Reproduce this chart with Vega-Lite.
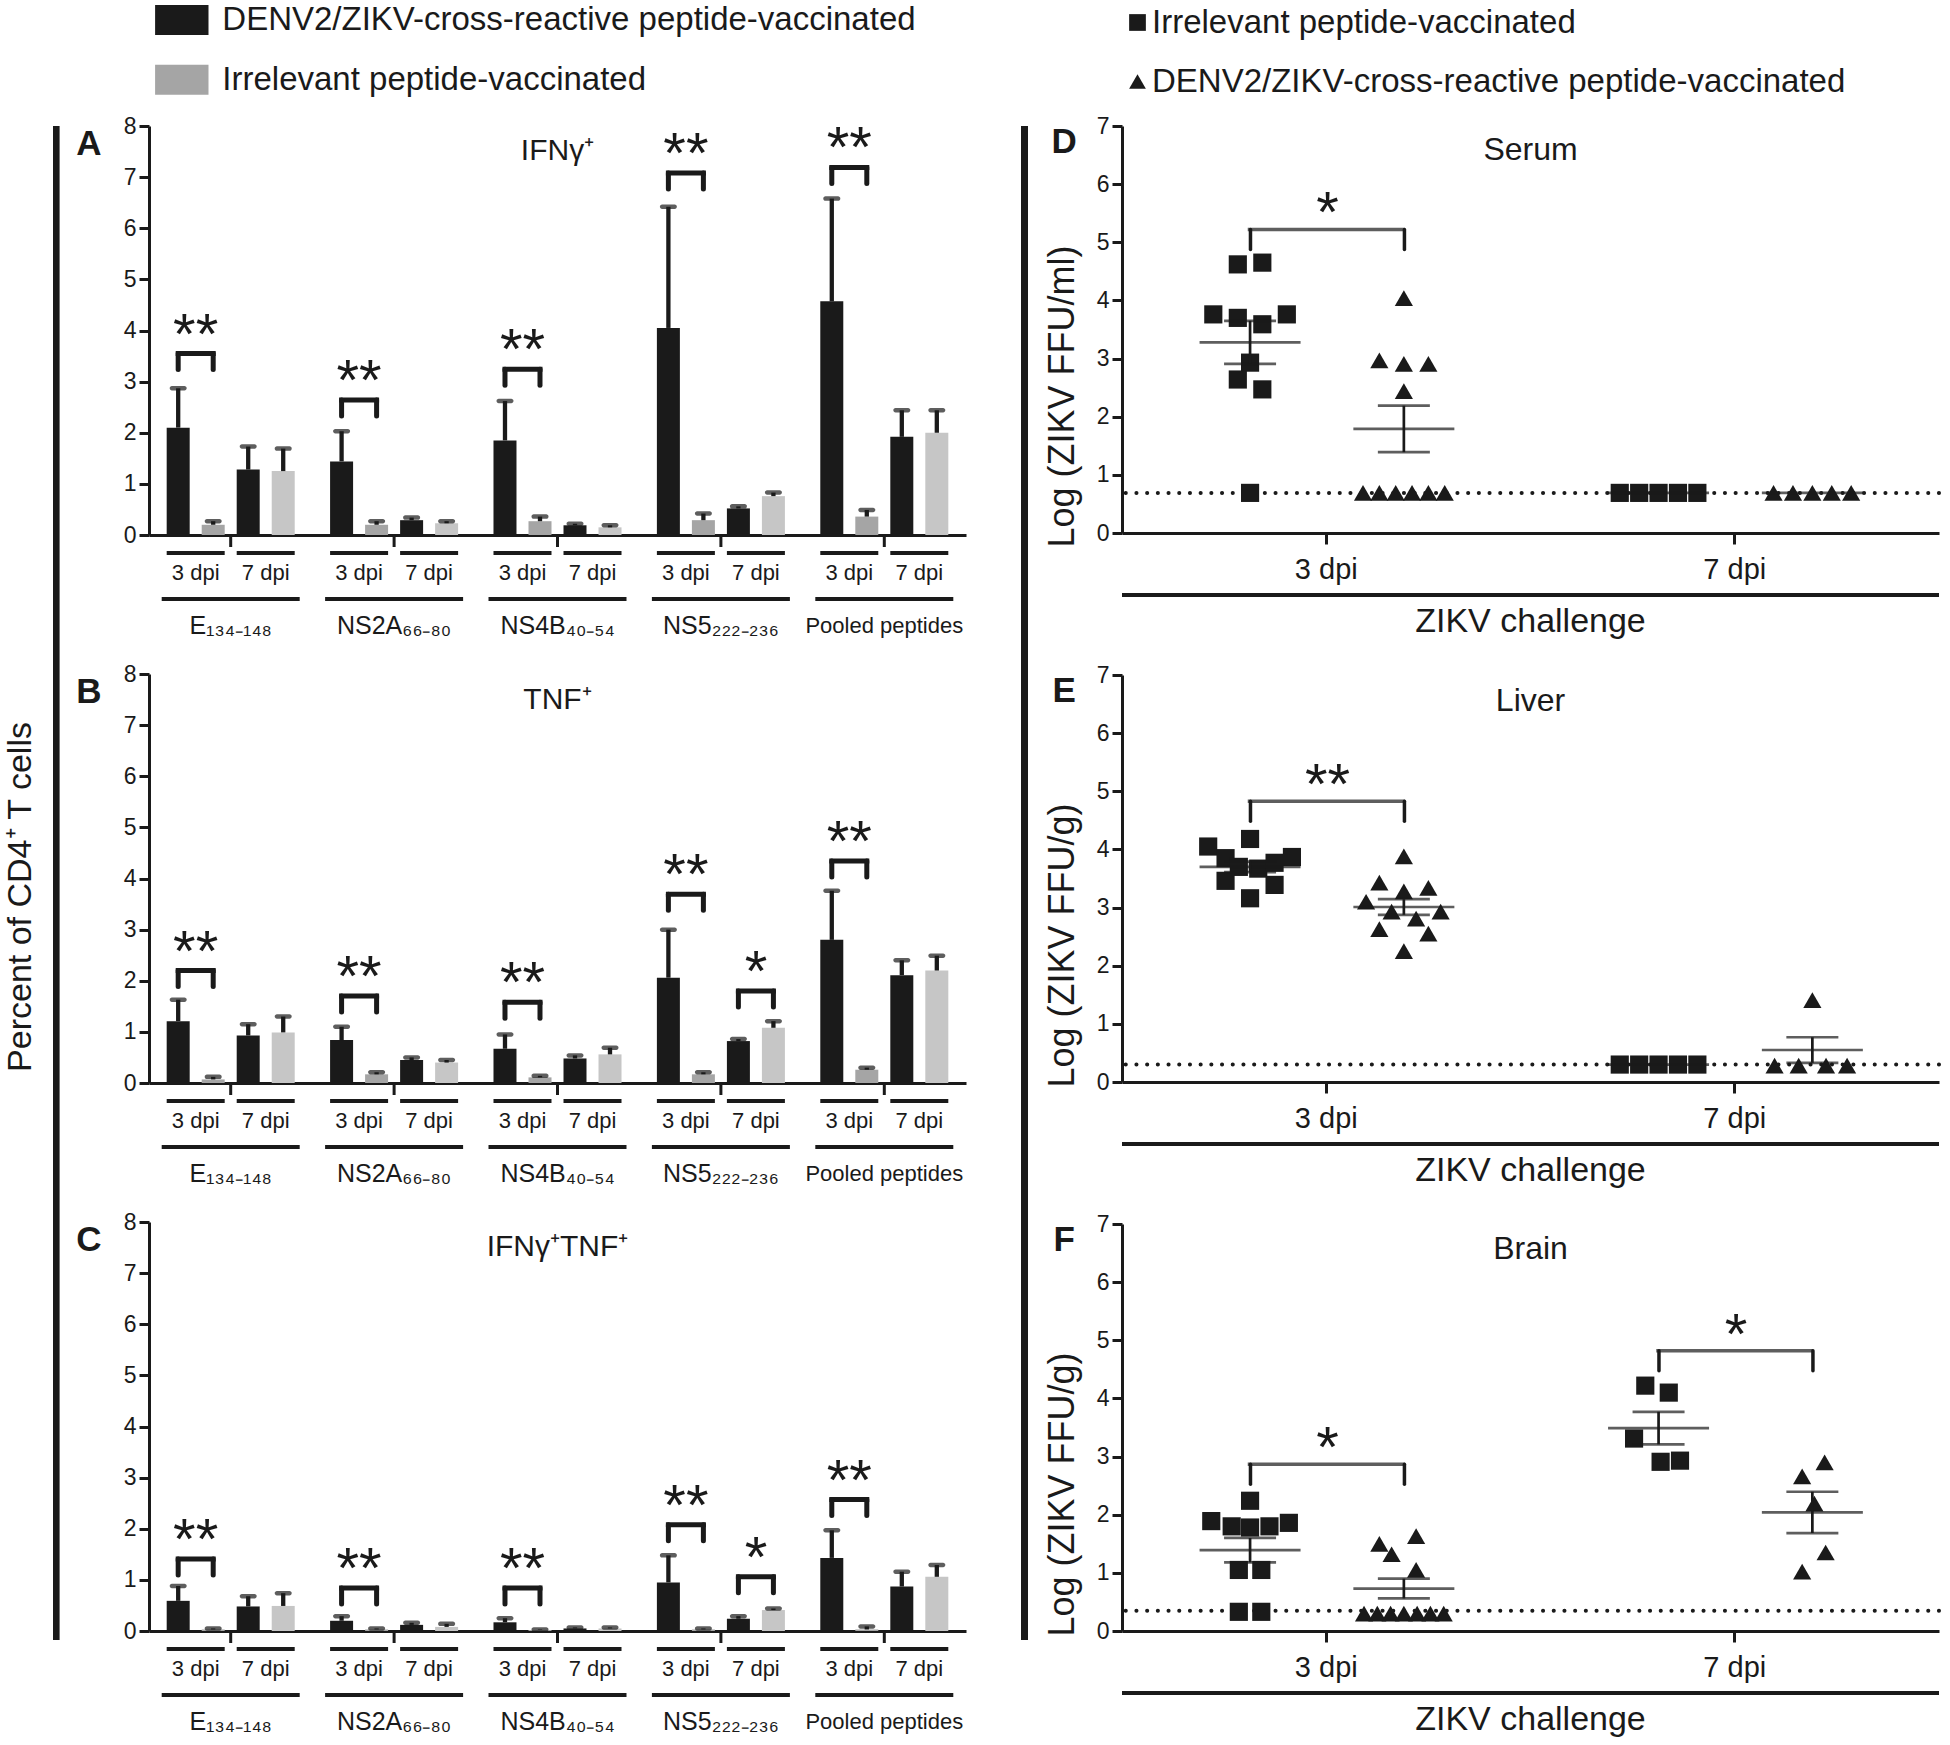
{
"$schema": "https://vega.github.io/schema/vega-lite/v6.json",
"padding": {"left": 3, "top": 3, "right": 0, "bottom": 0},
"config": {
  "font": "Liberation Sans",
  "view": {"stroke": null},
  "axis": {"grid": false, "domainColor": "#1a1a1a", "tickColor": "#1a1a1a", "labelColor": "#1a1a1a", "titleColor": "#1a1a1a", "labelFont": "Liberation Sans", "titleFont": "Liberation Sans"},
  "text": {"color": "#1a1a1a", "font": "Liberation Sans"},
  "legend": {"labelFont": "Liberation Sans", "labelColor": "#1a1a1a"}
},
"datasets": {
  "bars": [
    {"panel":"A","peptide":"E₁₃₄₋₁₄₈","dpi":"3 dpi","group":"DENV","mean":2.10,"sem":0.77},
    {"panel":"A","peptide":"E₁₃₄₋₁₄₈","dpi":"3 dpi","group":"Irr","mean":0.20,"sem":0.07},
    {"panel":"A","peptide":"E₁₃₄₋₁₄₈","dpi":"7 dpi","group":"DENV","mean":1.28,"sem":0.45},
    {"panel":"A","peptide":"E₁₃₄₋₁₄₈","dpi":"7 dpi","group":"Irr","mean":1.25,"sem":0.44},
    {"panel":"A","peptide":"NS2A₆₆₋₈₀","dpi":"3 dpi","group":"DENV","mean":1.44,"sem":0.59},
    {"panel":"A","peptide":"NS2A₆₆₋₈₀","dpi":"3 dpi","group":"Irr","mean":0.20,"sem":0.07},
    {"panel":"A","peptide":"NS2A₆₆₋₈₀","dpi":"7 dpi","group":"DENV","mean":0.29,"sem":0.05},
    {"panel":"A","peptide":"NS2A₆₆₋₈₀","dpi":"7 dpi","group":"Irr","mean":0.23,"sem":0.04},
    {"panel":"A","peptide":"NS4B₄₀₋₅₄","dpi":"3 dpi","group":"DENV","mean":1.85,"sem":0.77},
    {"panel":"A","peptide":"NS4B₄₀₋₅₄","dpi":"3 dpi","group":"Irr","mean":0.27,"sem":0.09},
    {"panel":"A","peptide":"NS4B₄₀₋₅₄","dpi":"7 dpi","group":"DENV","mean":0.19,"sem":0.03},
    {"panel":"A","peptide":"NS4B₄₀₋₅₄","dpi":"7 dpi","group":"Irr","mean":0.15,"sem":0.04},
    {"panel":"A","peptide":"NS5₂₂₂₋₂₃₆","dpi":"3 dpi","group":"DENV","mean":4.05,"sem":2.37},
    {"panel":"A","peptide":"NS5₂₂₂₋₂₃₆","dpi":"3 dpi","group":"Irr","mean":0.29,"sem":0.13},
    {"panel":"A","peptide":"NS5₂₂₂₋₂₃₆","dpi":"7 dpi","group":"DENV","mean":0.52,"sem":0.04},
    {"panel":"A","peptide":"NS5₂₂₂₋₂₃₆","dpi":"7 dpi","group":"Irr","mean":0.76,"sem":0.07},
    {"panel":"A","peptide":"Pooled peptides","dpi":"3 dpi","group":"DENV","mean":4.57,"sem":2.01},
    {"panel":"A","peptide":"Pooled peptides","dpi":"3 dpi","group":"Irr","mean":0.36,"sem":0.13},
    {"panel":"A","peptide":"Pooled peptides","dpi":"7 dpi","group":"DENV","mean":1.92,"sem":0.52},
    {"panel":"A","peptide":"Pooled peptides","dpi":"7 dpi","group":"Irr","mean":2.00,"sem":0.44},
    {"panel":"B","peptide":"E₁₃₄₋₁₄₈","dpi":"3 dpi","group":"DENV","mean":1.21,"sem":0.42},
    {"panel":"B","peptide":"E₁₃₄₋₁₄₈","dpi":"3 dpi","group":"Irr","mean":0.07,"sem":0.05},
    {"panel":"B","peptide":"E₁₃₄₋₁₄₈","dpi":"7 dpi","group":"DENV","mean":0.93,"sem":0.22},
    {"panel":"B","peptide":"E₁₃₄₋₁₄₈","dpi":"7 dpi","group":"Irr","mean":0.99,"sem":0.31},
    {"panel":"B","peptide":"NS2A₆₆₋₈₀","dpi":"3 dpi","group":"DENV","mean":0.84,"sem":0.26},
    {"panel":"B","peptide":"NS2A₆₆₋₈₀","dpi":"3 dpi","group":"Irr","mean":0.17,"sem":0.04},
    {"panel":"B","peptide":"NS2A₆₆₋₈₀","dpi":"7 dpi","group":"DENV","mean":0.45,"sem":0.05},
    {"panel":"B","peptide":"NS2A₆₆₋₈₀","dpi":"7 dpi","group":"Irr","mean":0.40,"sem":0.05},
    {"panel":"B","peptide":"NS4B₄₀₋₅₄","dpi":"3 dpi","group":"DENV","mean":0.67,"sem":0.28},
    {"panel":"B","peptide":"NS4B₄₀₋₅₄","dpi":"3 dpi","group":"Irr","mean":0.11,"sem":0.03},
    {"panel":"B","peptide":"NS4B₄₀₋₅₄","dpi":"7 dpi","group":"DENV","mean":0.48,"sem":0.06},
    {"panel":"B","peptide":"NS4B₄₀₋₅₄","dpi":"7 dpi","group":"Irr","mean":0.56,"sem":0.13},
    {"panel":"B","peptide":"NS5₂₂₂₋₂₃₆","dpi":"3 dpi","group":"DENV","mean":2.06,"sem":0.94},
    {"panel":"B","peptide":"NS5₂₂₂₋₂₃₆","dpi":"3 dpi","group":"Irr","mean":0.17,"sem":0.04},
    {"panel":"B","peptide":"NS5₂₂₂₋₂₃₆","dpi":"7 dpi","group":"DENV","mean":0.82,"sem":0.04},
    {"panel":"B","peptide":"NS5₂₂₂₋₂₃₆","dpi":"7 dpi","group":"Irr","mean":1.08,"sem":0.13},
    {"panel":"B","peptide":"Pooled peptides","dpi":"3 dpi","group":"DENV","mean":2.80,"sem":0.96},
    {"panel":"B","peptide":"Pooled peptides","dpi":"3 dpi","group":"Irr","mean":0.26,"sem":0.04},
    {"panel":"B","peptide":"Pooled peptides","dpi":"7 dpi","group":"DENV","mean":2.11,"sem":0.29},
    {"panel":"B","peptide":"Pooled peptides","dpi":"7 dpi","group":"Irr","mean":2.20,"sem":0.29},
    {"panel":"C","peptide":"E₁₃₄₋₁₄₈","dpi":"3 dpi","group":"DENV","mean":0.59,"sem":0.29},
    {"panel":"C","peptide":"E₁₃₄₋₁₄₈","dpi":"3 dpi","group":"Irr","mean":0.03,"sem":0.02},
    {"panel":"C","peptide":"E₁₃₄₋₁₄₈","dpi":"7 dpi","group":"DENV","mean":0.48,"sem":0.20},
    {"panel":"C","peptide":"E₁₃₄₋₁₄₈","dpi":"7 dpi","group":"Irr","mean":0.49,"sem":0.25},
    {"panel":"C","peptide":"NS2A₆₆₋₈₀","dpi":"3 dpi","group":"DENV","mean":0.20,"sem":0.09},
    {"panel":"C","peptide":"NS2A₆₆₋₈₀","dpi":"3 dpi","group":"Irr","mean":0.03,"sem":0.02},
    {"panel":"C","peptide":"NS2A₆₆₋₈₀","dpi":"7 dpi","group":"DENV","mean":0.12,"sem":0.04},
    {"panel":"C","peptide":"NS2A₆₆₋₈₀","dpi":"7 dpi","group":"Irr","mean":0.08,"sem":0.06},
    {"panel":"C","peptide":"NS4B₄₀₋₅₄","dpi":"3 dpi","group":"DENV","mean":0.17,"sem":0.08},
    {"panel":"C","peptide":"NS4B₄₀₋₅₄","dpi":"3 dpi","group":"Irr","mean":0.02,"sem":0.01},
    {"panel":"C","peptide":"NS4B₄₀₋₅₄","dpi":"7 dpi","group":"DENV","mean":0.05,"sem":0.02},
    {"panel":"C","peptide":"NS4B₄₀₋₅₄","dpi":"7 dpi","group":"Irr","mean":0.05,"sem":0.02},
    {"panel":"C","peptide":"NS5₂₂₂₋₂₃₆","dpi":"3 dpi","group":"DENV","mean":0.95,"sem":0.53},
    {"panel":"C","peptide":"NS5₂₂₂₋₂₃₆","dpi":"3 dpi","group":"Irr","mean":0.03,"sem":0.02},
    {"panel":"C","peptide":"NS5₂₂₂₋₂₃₆","dpi":"7 dpi","group":"DENV","mean":0.24,"sem":0.05},
    {"panel":"C","peptide":"NS5₂₂₂₋₂₃₆","dpi":"7 dpi","group":"Irr","mean":0.41,"sem":0.03},
    {"panel":"C","peptide":"Pooled peptides","dpi":"3 dpi","group":"DENV","mean":1.43,"sem":0.54},
    {"panel":"C","peptide":"Pooled peptides","dpi":"3 dpi","group":"Irr","mean":0.03,"sem":0.06},
    {"panel":"C","peptide":"Pooled peptides","dpi":"7 dpi","group":"DENV","mean":0.87,"sem":0.29},
    {"panel":"C","peptide":"Pooled peptides","dpi":"7 dpi","group":"Irr","mean":1.06,"sem":0.23}
  ],
  "sig": [
    {"panel":"A","peptide":"E₁₃₄₋₁₄₈","dpi":"3 dpi","by":3.55,"stars":"**"},
    {"panel":"A","peptide":"NS2A₆₆₋₈₀","dpi":"3 dpi","by":2.64,"stars":"**"},
    {"panel":"A","peptide":"NS4B₄₀₋₅₄","dpi":"3 dpi","by":3.24,"stars":"**"},
    {"panel":"A","peptide":"NS5₂₂₂₋₂₃₆","dpi":"3 dpi","by":7.08,"stars":"**"},
    {"panel":"A","peptide":"Pooled peptides","dpi":"3 dpi","by":7.19,"stars":"**"},
    {"panel":"B","peptide":"E₁₃₄₋₁₄₈","dpi":"3 dpi","by":2.20,"stars":"**"},
    {"panel":"B","peptide":"NS2A₆₆₋₈₀","dpi":"3 dpi","by":1.70,"stars":"**"},
    {"panel":"B","peptide":"NS4B₄₀₋₅₄","dpi":"3 dpi","by":1.58,"stars":"**"},
    {"panel":"B","peptide":"NS5₂₂₂₋₂₃₆","dpi":"3 dpi","by":3.69,"stars":"**"},
    {"panel":"B","peptide":"NS5₂₂₂₋₂₃₆","dpi":"7 dpi","by":1.80,"stars":"*"},
    {"panel":"B","peptide":"Pooled peptides","dpi":"3 dpi","by":4.34,"stars":"**"},
    {"panel":"C","peptide":"E₁₃₄₋₁₄₈","dpi":"3 dpi","by":1.41,"stars":"**"},
    {"panel":"C","peptide":"NS2A₆₆₋₈₀","dpi":"3 dpi","by":0.84,"stars":"**"},
    {"panel":"C","peptide":"NS4B₄₀₋₅₄","dpi":"3 dpi","by":0.84,"stars":"**"},
    {"panel":"C","peptide":"NS5₂₂₂₋₂₃₆","dpi":"3 dpi","by":2.08,"stars":"**"},
    {"panel":"C","peptide":"NS5₂₂₂₋₂₃₆","dpi":"7 dpi","by":1.06,"stars":"*"},
    {"panel":"C","peptide":"Pooled peptides","dpi":"3 dpi","by":2.57,"stars":"**"}
  ],
  "sig2": [
    {"panel":"D","dpi":"3 dpi","by":5.22,"stars":"*"},
    {"panel":"E","dpi":"3 dpi","by":4.83,"stars":"**"},
    {"panel":"F","dpi":"3 dpi","by":2.87,"stars":"*"},
    {"panel":"F","dpi":"7 dpi","by":4.82,"stars":"*"}
  ],
  "panels": [
    {"panel":"A","title":"IFNγ⁺"},
    {"panel":"B","title":"TNF⁺"},
    {"panel":"C","title":"IFNγ⁺TNF⁺"},
    {"panel":"D","title":"Serum","lod":0.69,"xlab":"ZIKV challenge"},
    {"panel":"E","title":"Liver","lod":0.30,"xlab":"ZIKV challenge"},
    {"panel":"F","title":"Brain","lod":0.35,"xlab":"ZIKV challenge"}
  ],
  "points": [
    {"panel":"D","dpi":"3 dpi","group":"Irr","value":4.62,"j":-0.6},
    {"panel":"D","dpi":"3 dpi","group":"Irr","value":4.65,"j":0.6},
    {"panel":"D","dpi":"3 dpi","group":"Irr","value":3.76,"j":-1.8},
    {"panel":"D","dpi":"3 dpi","group":"Irr","value":3.70,"j":-0.6},
    {"panel":"D","dpi":"3 dpi","group":"Irr","value":3.59,"j":0.6},
    {"panel":"D","dpi":"3 dpi","group":"Irr","value":3.76,"j":1.8},
    {"panel":"D","dpi":"3 dpi","group":"Irr","value":2.93,"j":0},
    {"panel":"D","dpi":"3 dpi","group":"Irr","value":2.64,"j":-0.6},
    {"panel":"D","dpi":"3 dpi","group":"Irr","value":2.47,"j":0.6},
    {"panel":"D","dpi":"3 dpi","group":"Irr","value":0.69,"j":0},
    {"panel":"D","dpi":"3 dpi","group":"DENV","value":4.04,"j":0},
    {"panel":"D","dpi":"3 dpi","group":"DENV","value":2.97,"j":-1.2},
    {"panel":"D","dpi":"3 dpi","group":"DENV","value":2.91,"j":0},
    {"panel":"D","dpi":"3 dpi","group":"DENV","value":2.91,"j":1.2},
    {"panel":"D","dpi":"3 dpi","group":"DENV","value":2.44,"j":0},
    {"panel":"D","dpi":"3 dpi","group":"DENV","value":0.69,"j":-2.0},
    {"panel":"D","dpi":"3 dpi","group":"DENV","value":0.69,"j":-1.2},
    {"panel":"D","dpi":"3 dpi","group":"DENV","value":0.69,"j":-0.4},
    {"panel":"D","dpi":"3 dpi","group":"DENV","value":0.69,"j":0.4},
    {"panel":"D","dpi":"3 dpi","group":"DENV","value":0.69,"j":1.2},
    {"panel":"D","dpi":"3 dpi","group":"DENV","value":0.69,"j":2.0},
    {"panel":"D","dpi":"7 dpi","group":"Irr","value":0.69,"j":-1.9},
    {"panel":"D","dpi":"7 dpi","group":"Irr","value":0.69,"j":-0.95},
    {"panel":"D","dpi":"7 dpi","group":"Irr","value":0.69,"j":0},
    {"panel":"D","dpi":"7 dpi","group":"Irr","value":0.69,"j":0.95},
    {"panel":"D","dpi":"7 dpi","group":"Irr","value":0.69,"j":1.9},
    {"panel":"D","dpi":"7 dpi","group":"DENV","value":0.69,"j":-1.9},
    {"panel":"D","dpi":"7 dpi","group":"DENV","value":0.69,"j":-0.95},
    {"panel":"D","dpi":"7 dpi","group":"DENV","value":0.69,"j":0},
    {"panel":"D","dpi":"7 dpi","group":"DENV","value":0.69,"j":0.95},
    {"panel":"D","dpi":"7 dpi","group":"DENV","value":0.69,"j":1.9},
    {"panel":"E","dpi":"3 dpi","group":"Irr","value":4.05,"j":-2.05},
    {"panel":"E","dpi":"3 dpi","group":"Irr","value":4.18,"j":0},
    {"panel":"E","dpi":"3 dpi","group":"Irr","value":3.85,"j":-1.2},
    {"panel":"E","dpi":"3 dpi","group":"Irr","value":3.87,"j":2.05},
    {"panel":"E","dpi":"3 dpi","group":"Irr","value":3.70,"j":-0.55},
    {"panel":"E","dpi":"3 dpi","group":"Irr","value":3.67,"j":0.4},
    {"panel":"E","dpi":"3 dpi","group":"Irr","value":3.77,"j":1.2},
    {"panel":"E","dpi":"3 dpi","group":"Irr","value":3.46,"j":-1.2},
    {"panel":"E","dpi":"3 dpi","group":"Irr","value":3.39,"j":1.2},
    {"panel":"E","dpi":"3 dpi","group":"Irr","value":3.16,"j":0},
    {"panel":"E","dpi":"3 dpi","group":"DENV","value":3.88,"j":0},
    {"panel":"E","dpi":"3 dpi","group":"DENV","value":3.43,"j":-1.2},
    {"panel":"E","dpi":"3 dpi","group":"DENV","value":3.34,"j":1.2},
    {"panel":"E","dpi":"3 dpi","group":"DENV","value":3.28,"j":0},
    {"panel":"E","dpi":"3 dpi","group":"DENV","value":3.10,"j":-1.85},
    {"panel":"E","dpi":"3 dpi","group":"DENV","value":2.93,"j":1.8},
    {"panel":"E","dpi":"3 dpi","group":"DENV","value":2.93,"j":-0.6},
    {"panel":"E","dpi":"3 dpi","group":"DENV","value":2.81,"j":0.6},
    {"panel":"E","dpi":"3 dpi","group":"DENV","value":2.63,"j":-1.2},
    {"panel":"E","dpi":"3 dpi","group":"DENV","value":2.55,"j":1.2},
    {"panel":"E","dpi":"3 dpi","group":"DENV","value":2.25,"j":0},
    {"panel":"E","dpi":"7 dpi","group":"Irr","value":0.30,"j":-1.9},
    {"panel":"E","dpi":"7 dpi","group":"Irr","value":0.30,"j":-0.95},
    {"panel":"E","dpi":"7 dpi","group":"Irr","value":0.30,"j":0},
    {"panel":"E","dpi":"7 dpi","group":"Irr","value":0.30,"j":0.95},
    {"panel":"E","dpi":"7 dpi","group":"Irr","value":0.30,"j":1.9},
    {"panel":"E","dpi":"7 dpi","group":"DENV","value":1.41,"j":0},
    {"panel":"E","dpi":"7 dpi","group":"DENV","value":0.28,"j":-1.85},
    {"panel":"E","dpi":"7 dpi","group":"DENV","value":0.28,"j":-0.67},
    {"panel":"E","dpi":"7 dpi","group":"DENV","value":0.28,"j":0.67},
    {"panel":"E","dpi":"7 dpi","group":"DENV","value":0.28,"j":1.7},
    {"panel":"F","dpi":"3 dpi","group":"Irr","value":2.24,"j":0},
    {"panel":"F","dpi":"3 dpi","group":"Irr","value":1.89,"j":-1.9},
    {"panel":"F","dpi":"3 dpi","group":"Irr","value":1.80,"j":-0.9},
    {"panel":"F","dpi":"3 dpi","group":"Irr","value":1.78,"j":0},
    {"panel":"F","dpi":"3 dpi","group":"Irr","value":1.80,"j":0.95},
    {"panel":"F","dpi":"3 dpi","group":"Irr","value":1.86,"j":1.9},
    {"panel":"F","dpi":"3 dpi","group":"Irr","value":1.05,"j":-0.55},
    {"panel":"F","dpi":"3 dpi","group":"Irr","value":1.05,"j":0.55},
    {"panel":"F","dpi":"3 dpi","group":"Irr","value":0.33,"j":-0.55},
    {"panel":"F","dpi":"3 dpi","group":"Irr","value":0.33,"j":0.55},
    {"panel":"F","dpi":"3 dpi","group":"DENV","value":1.50,"j":-1.2},
    {"panel":"F","dpi":"3 dpi","group":"DENV","value":1.63,"j":0.6},
    {"panel":"F","dpi":"3 dpi","group":"DENV","value":1.32,"j":-0.6},
    {"panel":"F","dpi":"3 dpi","group":"DENV","value":1.05,"j":0.6},
    {"panel":"F","dpi":"3 dpi","group":"DENV","value":0.30,"j":-1.95},
    {"panel":"F","dpi":"3 dpi","group":"DENV","value":0.30,"j":-1.3},
    {"panel":"F","dpi":"3 dpi","group":"DENV","value":0.30,"j":-0.65},
    {"panel":"F","dpi":"3 dpi","group":"DENV","value":0.30,"j":0},
    {"panel":"F","dpi":"3 dpi","group":"DENV","value":0.30,"j":0.65},
    {"panel":"F","dpi":"3 dpi","group":"DENV","value":0.30,"j":1.3},
    {"panel":"F","dpi":"3 dpi","group":"DENV","value":0.30,"j":1.95},
    {"panel":"F","dpi":"7 dpi","group":"Irr","value":4.22,"j":-0.65},
    {"panel":"F","dpi":"7 dpi","group":"Irr","value":4.10,"j":0.5},
    {"panel":"F","dpi":"7 dpi","group":"Irr","value":3.31,"j":-1.2},
    {"panel":"F","dpi":"7 dpi","group":"Irr","value":2.91,"j":0.1},
    {"panel":"F","dpi":"7 dpi","group":"Irr","value":2.93,"j":1.05},
    {"panel":"F","dpi":"7 dpi","group":"DENV","value":2.90,"j":0.6},
    {"panel":"F","dpi":"7 dpi","group":"DENV","value":2.66,"j":-0.5},
    {"panel":"F","dpi":"7 dpi","group":"DENV","value":2.19,"j":0.1},
    {"panel":"F","dpi":"7 dpi","group":"DENV","value":1.35,"j":0.65},
    {"panel":"F","dpi":"7 dpi","group":"DENV","value":1.02,"j":-0.5}
  ],
  "summary": [
    {"panel":"D","dpi":"3 dpi","group":"Irr","mean":3.28,"sem":0.37},
    {"panel":"D","dpi":"3 dpi","group":"DENV","mean":1.79,"sem":0.40},
    {"panel":"D","dpi":"7 dpi","group":"Irr","mean":0.69,"sem":0},
    {"panel":"D","dpi":"7 dpi","group":"DENV","mean":0.69,"sem":0},
    {"panel":"E","dpi":"3 dpi","group":"Irr","mean":3.70,"sem":0.09},
    {"panel":"E","dpi":"3 dpi","group":"DENV","mean":3.01,"sem":0.135},
    {"panel":"E","dpi":"7 dpi","group":"Irr","mean":0.30,"sem":0},
    {"panel":"E","dpi":"7 dpi","group":"DENV","mean":0.55,"sem":0.22},
    {"panel":"F","dpi":"3 dpi","group":"Irr","mean":1.39,"sem":0.21},
    {"panel":"F","dpi":"3 dpi","group":"DENV","mean":0.73,"sem":0.17},
    {"panel":"F","dpi":"7 dpi","group":"Irr","mean":3.49,"sem":0.28},
    {"panel":"F","dpi":"7 dpi","group":"DENV","mean":2.04,"sem":0.355}
  ]
},
"resolve": {"scale": {"color": "independent", "shape": "independent", "xOffset": "independent"}},
"spacing": 55,
"hconcat": [
 {
  "spacing": 15,
  "resolve": {"scale": {"color": "independent", "shape": "independent", "xOffset": "independent"}},
  "hconcat": [
   {"width": 33.7, "height": 1542, "data": {"values": [{"t": "Percent of CD4⁺ T cells"}]}, "mark": {"type": "text", "angle": 270, "fontSize": 34, "baseline": "middle", "align": "center"}, "encoding": {"text": {"field": "t"}}},
   {"width": 6.6, "height": 1514, "data": {"values": [{}]}, "mark": {"type": "rect", "color": "#1a1a1a"}, "encoding": {}},
   {"spacing": 25,
    "resolve": {"scale": {"color": "independent", "shape": "independent", "xOffset": "independent"}},
    "vconcat": [
    {"width": 817, "height": 409, "layer": [
      {"data": {"name": "bars"}, "transform": [{"filter": "datum.panel === 'A'"}, {"calculate": "datum.dpi + '|' + datum.group", "as": "sub"}, {"calculate": "datum.group === 'DENV' ? 'DENV' : (datum.dpi === '3 dpi' ? 'Irr3' : 'Irr7')", "as": "shade"}],
       "mark": {"type": "bar"},
       "encoding": {
         "x": {"field": "peptide", "type": "nominal", "scale": {"type": "band", "domain": ["E₁₃₄₋₁₄₈","NS2A₆₆₋₈₀","NS4B₄₀₋₅₄","NS5₂₂₂₋₂₃₆","Pooled peptides"], "paddingInner": 0.143, "paddingOuter": 0.0715},
               "axis": {"title": null, "ticks": false, "tickSize": 0, "labelPadding": 90, "labelBaseline": "middle", "labelAngle": 0, "labelLimit": 0, "labelFontSize": {"condition": {"test": "datum.value === 'Pooled peptides'", "value": 22}, "value": 25}, "domainWidth": 3}},
         "xOffset": {"field": "sub", "type": "nominal", "scale": {"domain": ["3 dpi|DENV", "3 dpi|Irr", "7 dpi|DENV", "7 dpi|Irr"], "paddingInner": 0.343, "paddingOuter": 0.1715}},
         "y": {"field": "mean", "type": "quantitative", "scale": {"domain": [0, 8], "nice": false},
               "axis": {"title": "A", "titleX": -60.7, "titleY": 17, "titleAngle": 0, "titleAlign": "center", "titleBaseline": "middle", "titleFontSize": 35, "titleFontWeight": "bold", "values": [0,1,2,3,4,5,6,7,8], "format": "d", "tickSize": 10, "tickWidth": 3, "domainWidth": 3, "labelFontSize": 23, "labelPadding": 3}},
         "color": {"field": "shade", "type": "nominal", "scale": {"domain": ["DENV", "Irr3", "Irr7"], "range": ["#1a1a1a", "#a5a5a5", "#c6c6c6"]},
               "legend": {"orient": "none", "legendX": 16.3, "legendY": -122.4, "title": null, "values": ["DENV", "Irr3"], "labelExpr": "datum.value === 'DENV' ? 'DENV2/ZIKV-cross-reactive peptide-vaccinated' : 'Irrelevant peptide-vaccinated'", "symbolType": "M-1.78,-1H1.78V1H-1.78Z", "symbolSize": 900, "symbolStrokeWidth": 0, "labelFontSize": 33, "labelOffset": 24, "labelLimit": 0, "rowPadding": 25.6, "padding": 0}}
       }},
      {"data": {"name": "bars"}, "transform": [{"filter": "datum.panel === 'A'"}, {"calculate": "datum.dpi + '|' + datum.group", "as": "sub"}, {"calculate": "datum.mean + datum.sem", "as": "upper"}],
       "mark": {"type": "rule", "strokeWidth": 4.3, "color": "#1a1a1a"},
       "encoding": {"x": {"field": "peptide", "type": "nominal"}, "xOffset": {"field": "sub", "type": "nominal"}, "y": {"field": "mean", "type": "quantitative"}, "y2": {"field": "upper"}}},
      {"data": {"name": "bars"}, "transform": [{"filter": "datum.panel === 'A'"}, {"calculate": "datum.dpi + '|' + datum.group", "as": "sub"}, {"calculate": "datum.mean + datum.sem", "as": "upper"}],
       "mark": {"type": "tick", "orient": "horizontal", "size": 17, "thickness": 4.5, "cornerRadius": 2.2, "color": "#1a1a1a"},
       "encoding": {"x": {"field": "peptide", "type": "nominal"}, "xOffset": {"field": "sub", "type": "nominal"}, "y": {"field": "upper", "type": "quantitative"}}},
      {"data": {"name": "bars"}, "transform": [{"filter": "datum.panel === 'A' && datum.group === 'DENV' && datum.dpi === '3 dpi'"}],
       "mark": {"type": "rule", "strokeWidth": 3, "y2Offset": 12, "color": "#1a1a1a"},
       "encoding": {"x": {"field": "peptide", "type": "nominal"}, "y": {"datum": 0}, "y2": {"datum": 0}}},
      {"data": {"name": "bars"}, "transform": [{"filter": "datum.panel === 'A' && datum.group === 'DENV' && datum.dpi === '3 dpi'"}],
       "mark": {"type": "point", "shape": "M-1,-0.069H1V0.069H-1Z", "size": 3364, "filled": true, "opacity": 1, "strokeWidth": 0, "yOffset": 18, "color": "#1a1a1a"},
       "encoding": {"x": {"field": "peptide", "type": "nominal", "bandPosition": 0.25}, "y": {"datum": 0}}},
      {"data": {"name": "bars"}, "transform": [{"filter": "datum.panel === 'A' && datum.group === 'DENV' && datum.dpi === '3 dpi'"}],
       "mark": {"type": "point", "shape": "M-1,-0.069H1V0.069H-1Z", "size": 3364, "filled": true, "opacity": 1, "strokeWidth": 0, "yOffset": 18, "color": "#1a1a1a"},
       "encoding": {"x": {"field": "peptide", "type": "nominal", "bandPosition": 0.75}, "y": {"datum": 0}}},
      {"data": {"name": "bars"}, "transform": [{"filter": "datum.panel === 'A' && datum.group === 'DENV' && datum.dpi === '3 dpi'"}],
       "mark": {"type": "text", "fontSize": 22, "baseline": "middle", "yOffset": 38},
       "encoding": {"x": {"field": "peptide", "type": "nominal", "bandPosition": 0.25}, "y": {"datum": 0}, "text": {"field": "dpi"}}},
      {"data": {"name": "bars"}, "transform": [{"filter": "datum.panel === 'A' && datum.group === 'DENV' && datum.dpi === '7 dpi'"}],
       "mark": {"type": "text", "fontSize": 22, "baseline": "middle", "yOffset": 38},
       "encoding": {"x": {"field": "peptide", "type": "nominal", "bandPosition": 0.75}, "y": {"datum": 0}, "text": {"field": "dpi"}}},
      {"data": {"name": "bars"}, "transform": [{"filter": "datum.panel === 'A' && datum.group === 'DENV' && datum.dpi === '3 dpi'"}],
       "mark": {"type": "point", "shape": "M-1,-0.029H1V0.029H-1Z", "size": 19044, "filled": true, "opacity": 1, "strokeWidth": 0, "yOffset": 64, "color": "#1a1a1a"},
       "encoding": {"x": {"field": "peptide", "type": "nominal", "bandPosition": 0.5}, "y": {"datum": 0}}},
      {"data": {"name": "panels"}, "transform": [{"filter": "datum.panel === 'A'"}],
       "mark": {"type": "text", "fontSize": 30, "baseline": "middle", "yOffset": 25},
       "encoding": {"y": {"datum": 8}, "text": {"field": "title"}}},
      {"data": {"name": "sig"}, "transform": [{"filter": "datum.panel === 'A' && datum.dpi === '3 dpi'"}],
       "mark": {"type": "point", "shape": "M-1,-0.125H1V0.125H-1Z", "size": 1600, "filled": true, "opacity": 1, "strokeWidth": 0, "color": "#1a1a1a"},
       "encoding": {"x": {"field": "peptide", "type": "nominal", "bandPosition": 0.25}, "y": {"field": "by", "type": "quantitative"}}},
      {"data": {"name": "sig"}, "transform": [{"filter": "datum.panel === 'A' && datum.dpi === '3 dpi'"}],
       "mark": {"type": "rule", "strokeWidth": 5, "strokeCap": "round", "y2Offset": 16, "color": "#1a1a1a"},
       "encoding": {"x": {"field": "peptide", "type": "nominal", "bandPosition": 0.125}, "y": {"field": "by", "type": "quantitative"}, "y2": {"field": "by"}}},
      {"data": {"name": "sig"}, "transform": [{"filter": "datum.panel === 'A' && datum.dpi === '3 dpi'"}],
       "mark": {"type": "rule", "strokeWidth": 5, "strokeCap": "round", "y2Offset": 16, "color": "#1a1a1a"},
       "encoding": {"x": {"field": "peptide", "type": "nominal", "bandPosition": 0.375}, "y": {"field": "by", "type": "quantitative"}, "y2": {"field": "by"}}},
      {"data": {"name": "sig"}, "transform": [{"filter": "datum.panel === 'A' && datum.dpi === '3 dpi'"}],
       "mark": {"type": "text", "fontSize": 58, "baseline": "alphabetic", "yOffset": 0},
       "encoding": {"x": {"field": "peptide", "type": "nominal", "bandPosition": 0.25}, "y": {"field": "by", "type": "quantitative"}, "text": {"field": "stars"}}}
    ]},
    {"width": 817, "height": 409, "layer": [
      {"data": {"name": "bars"}, "transform": [{"filter": "datum.panel === 'B'"}, {"calculate": "datum.dpi + '|' + datum.group", "as": "sub"}, {"calculate": "datum.group === 'DENV' ? 'DENV' : (datum.dpi === '3 dpi' ? 'Irr3' : 'Irr7')", "as": "shade"}],
       "mark": {"type": "bar"},
       "encoding": {
         "x": {"field": "peptide", "type": "nominal", "scale": {"type": "band", "domain": ["E₁₃₄₋₁₄₈","NS2A₆₆₋₈₀","NS4B₄₀₋₅₄","NS5₂₂₂₋₂₃₆","Pooled peptides"], "paddingInner": 0.143, "paddingOuter": 0.0715},
               "axis": {"title": null, "ticks": false, "tickSize": 0, "labelPadding": 90, "labelBaseline": "middle", "labelAngle": 0, "labelLimit": 0, "labelFontSize": {"condition": {"test": "datum.value === 'Pooled peptides'", "value": 22}, "value": 25}, "domainWidth": 3}},
         "xOffset": {"field": "sub", "type": "nominal", "scale": {"domain": ["3 dpi|DENV", "3 dpi|Irr", "7 dpi|DENV", "7 dpi|Irr"], "paddingInner": 0.343, "paddingOuter": 0.1715}},
         "y": {"field": "mean", "type": "quantitative", "scale": {"domain": [0, 8], "nice": false},
               "axis": {"title": "B", "titleX": -60.7, "titleY": 17, "titleAngle": 0, "titleAlign": "center", "titleBaseline": "middle", "titleFontSize": 35, "titleFontWeight": "bold", "values": [0,1,2,3,4,5,6,7,8], "format": "d", "tickSize": 10, "tickWidth": 3, "domainWidth": 3, "labelFontSize": 23, "labelPadding": 3}},
         "color": {"field": "shade", "type": "nominal", "scale": {"domain": ["DENV", "Irr3", "Irr7"], "range": ["#1a1a1a", "#a5a5a5", "#c6c6c6"]}, "legend": null}
       }},
      {"data": {"name": "bars"}, "transform": [{"filter": "datum.panel === 'B'"}, {"calculate": "datum.dpi + '|' + datum.group", "as": "sub"}, {"calculate": "datum.mean + datum.sem", "as": "upper"}],
       "mark": {"type": "rule", "strokeWidth": 4.3, "color": "#1a1a1a"},
       "encoding": {"x": {"field": "peptide", "type": "nominal"}, "xOffset": {"field": "sub", "type": "nominal"}, "y": {"field": "mean", "type": "quantitative"}, "y2": {"field": "upper"}}},
      {"data": {"name": "bars"}, "transform": [{"filter": "datum.panel === 'B'"}, {"calculate": "datum.dpi + '|' + datum.group", "as": "sub"}, {"calculate": "datum.mean + datum.sem", "as": "upper"}],
       "mark": {"type": "tick", "orient": "horizontal", "size": 17, "thickness": 4.5, "cornerRadius": 2.2, "color": "#1a1a1a"},
       "encoding": {"x": {"field": "peptide", "type": "nominal"}, "xOffset": {"field": "sub", "type": "nominal"}, "y": {"field": "upper", "type": "quantitative"}}},
      {"data": {"name": "bars"}, "transform": [{"filter": "datum.panel === 'B' && datum.group === 'DENV' && datum.dpi === '3 dpi'"}],
       "mark": {"type": "rule", "strokeWidth": 3, "y2Offset": 12, "color": "#1a1a1a"},
       "encoding": {"x": {"field": "peptide", "type": "nominal"}, "y": {"datum": 0}, "y2": {"datum": 0}}},
      {"data": {"name": "bars"}, "transform": [{"filter": "datum.panel === 'B' && datum.group === 'DENV' && datum.dpi === '3 dpi'"}],
       "mark": {"type": "point", "shape": "M-1,-0.069H1V0.069H-1Z", "size": 3364, "filled": true, "opacity": 1, "strokeWidth": 0, "yOffset": 18, "color": "#1a1a1a"},
       "encoding": {"x": {"field": "peptide", "type": "nominal", "bandPosition": 0.25}, "y": {"datum": 0}}},
      {"data": {"name": "bars"}, "transform": [{"filter": "datum.panel === 'B' && datum.group === 'DENV' && datum.dpi === '3 dpi'"}],
       "mark": {"type": "point", "shape": "M-1,-0.069H1V0.069H-1Z", "size": 3364, "filled": true, "opacity": 1, "strokeWidth": 0, "yOffset": 18, "color": "#1a1a1a"},
       "encoding": {"x": {"field": "peptide", "type": "nominal", "bandPosition": 0.75}, "y": {"datum": 0}}},
      {"data": {"name": "bars"}, "transform": [{"filter": "datum.panel === 'B' && datum.group === 'DENV' && datum.dpi === '3 dpi'"}],
       "mark": {"type": "text", "fontSize": 22, "baseline": "middle", "yOffset": 38},
       "encoding": {"x": {"field": "peptide", "type": "nominal", "bandPosition": 0.25}, "y": {"datum": 0}, "text": {"field": "dpi"}}},
      {"data": {"name": "bars"}, "transform": [{"filter": "datum.panel === 'B' && datum.group === 'DENV' && datum.dpi === '7 dpi'"}],
       "mark": {"type": "text", "fontSize": 22, "baseline": "middle", "yOffset": 38},
       "encoding": {"x": {"field": "peptide", "type": "nominal", "bandPosition": 0.75}, "y": {"datum": 0}, "text": {"field": "dpi"}}},
      {"data": {"name": "bars"}, "transform": [{"filter": "datum.panel === 'B' && datum.group === 'DENV' && datum.dpi === '3 dpi'"}],
       "mark": {"type": "point", "shape": "M-1,-0.029H1V0.029H-1Z", "size": 19044, "filled": true, "opacity": 1, "strokeWidth": 0, "yOffset": 64, "color": "#1a1a1a"},
       "encoding": {"x": {"field": "peptide", "type": "nominal", "bandPosition": 0.5}, "y": {"datum": 0}}},
      {"data": {"name": "panels"}, "transform": [{"filter": "datum.panel === 'B'"}],
       "mark": {"type": "text", "fontSize": 30, "baseline": "middle", "yOffset": 26},
       "encoding": {"y": {"datum": 8}, "text": {"field": "title"}}},
      {"data": {"name": "sig"}, "transform": [{"filter": "datum.panel === 'B' && datum.dpi === '3 dpi'"}],
       "mark": {"type": "point", "shape": "M-1,-0.125H1V0.125H-1Z", "size": 1600, "filled": true, "opacity": 1, "strokeWidth": 0, "color": "#1a1a1a"},
       "encoding": {"x": {"field": "peptide", "type": "nominal", "bandPosition": 0.25}, "y": {"field": "by", "type": "quantitative"}}},
      {"data": {"name": "sig"}, "transform": [{"filter": "datum.panel === 'B' && datum.dpi === '3 dpi'"}],
       "mark": {"type": "rule", "strokeWidth": 5, "strokeCap": "round", "y2Offset": 16, "color": "#1a1a1a"},
       "encoding": {"x": {"field": "peptide", "type": "nominal", "bandPosition": 0.125}, "y": {"field": "by", "type": "quantitative"}, "y2": {"field": "by"}}},
      {"data": {"name": "sig"}, "transform": [{"filter": "datum.panel === 'B' && datum.dpi === '3 dpi'"}],
       "mark": {"type": "rule", "strokeWidth": 5, "strokeCap": "round", "y2Offset": 16, "color": "#1a1a1a"},
       "encoding": {"x": {"field": "peptide", "type": "nominal", "bandPosition": 0.375}, "y": {"field": "by", "type": "quantitative"}, "y2": {"field": "by"}}},
      {"data": {"name": "sig"}, "transform": [{"filter": "datum.panel === 'B' && datum.dpi === '3 dpi'"}],
       "mark": {"type": "text", "fontSize": 58, "baseline": "alphabetic", "yOffset": 0},
       "encoding": {"x": {"field": "peptide", "type": "nominal", "bandPosition": 0.25}, "y": {"field": "by", "type": "quantitative"}, "text": {"field": "stars"}}},
      {"data": {"name": "sig"}, "transform": [{"filter": "datum.panel === 'B' && datum.dpi === '7 dpi'"}],
       "mark": {"type": "point", "shape": "M-1,-0.125H1V0.125H-1Z", "size": 1600, "filled": true, "opacity": 1, "strokeWidth": 0, "color": "#1a1a1a"},
       "encoding": {"x": {"field": "peptide", "type": "nominal", "bandPosition": 0.75}, "y": {"field": "by", "type": "quantitative"}}},
      {"data": {"name": "sig"}, "transform": [{"filter": "datum.panel === 'B' && datum.dpi === '7 dpi'"}],
       "mark": {"type": "rule", "strokeWidth": 5, "strokeCap": "round", "y2Offset": 16, "color": "#1a1a1a"},
       "encoding": {"x": {"field": "peptide", "type": "nominal", "bandPosition": 0.625}, "y": {"field": "by", "type": "quantitative"}, "y2": {"field": "by"}}},
      {"data": {"name": "sig"}, "transform": [{"filter": "datum.panel === 'B' && datum.dpi === '7 dpi'"}],
       "mark": {"type": "rule", "strokeWidth": 5, "strokeCap": "round", "y2Offset": 16, "color": "#1a1a1a"},
       "encoding": {"x": {"field": "peptide", "type": "nominal", "bandPosition": 0.875}, "y": {"field": "by", "type": "quantitative"}, "y2": {"field": "by"}}},
      {"data": {"name": "sig"}, "transform": [{"filter": "datum.panel === 'B' && datum.dpi === '7 dpi'"}],
       "mark": {"type": "text", "fontSize": 58, "baseline": "alphabetic", "yOffset": 0},
       "encoding": {"x": {"field": "peptide", "type": "nominal", "bandPosition": 0.75}, "y": {"field": "by", "type": "quantitative"}, "text": {"field": "stars"}}}
    ]},
    {"width": 817, "height": 409, "layer": [
      {"data": {"name": "bars"}, "transform": [{"filter": "datum.panel === 'C'"}, {"calculate": "datum.dpi + '|' + datum.group", "as": "sub"}, {"calculate": "datum.group === 'DENV' ? 'DENV' : (datum.dpi === '3 dpi' ? 'Irr3' : 'Irr7')", "as": "shade"}],
       "mark": {"type": "bar"},
       "encoding": {
         "x": {"field": "peptide", "type": "nominal", "scale": {"type": "band", "domain": ["E₁₃₄₋₁₄₈","NS2A₆₆₋₈₀","NS4B₄₀₋₅₄","NS5₂₂₂₋₂₃₆","Pooled peptides"], "paddingInner": 0.143, "paddingOuter": 0.0715},
               "axis": {"title": null, "ticks": false, "tickSize": 0, "labelPadding": 90, "labelBaseline": "middle", "labelAngle": 0, "labelLimit": 0, "labelFontSize": {"condition": {"test": "datum.value === 'Pooled peptides'", "value": 22}, "value": 25}, "domainWidth": 3}},
         "xOffset": {"field": "sub", "type": "nominal", "scale": {"domain": ["3 dpi|DENV", "3 dpi|Irr", "7 dpi|DENV", "7 dpi|Irr"], "paddingInner": 0.343, "paddingOuter": 0.1715}},
         "y": {"field": "mean", "type": "quantitative", "scale": {"domain": [0, 8], "nice": false},
               "axis": {"title": "C", "titleX": -60.7, "titleY": 17, "titleAngle": 0, "titleAlign": "center", "titleBaseline": "middle", "titleFontSize": 35, "titleFontWeight": "bold", "values": [0,1,2,3,4,5,6,7,8], "format": "d", "tickSize": 10, "tickWidth": 3, "domainWidth": 3, "labelFontSize": 23, "labelPadding": 3}},
         "color": {"field": "shade", "type": "nominal", "scale": {"domain": ["DENV", "Irr3", "Irr7"], "range": ["#1a1a1a", "#a5a5a5", "#c6c6c6"]}, "legend": null}
       }},
      {"data": {"name": "bars"}, "transform": [{"filter": "datum.panel === 'C'"}, {"calculate": "datum.dpi + '|' + datum.group", "as": "sub"}, {"calculate": "datum.mean + datum.sem", "as": "upper"}],
       "mark": {"type": "rule", "strokeWidth": 4.3, "color": "#1a1a1a"},
       "encoding": {"x": {"field": "peptide", "type": "nominal"}, "xOffset": {"field": "sub", "type": "nominal"}, "y": {"field": "mean", "type": "quantitative"}, "y2": {"field": "upper"}}},
      {"data": {"name": "bars"}, "transform": [{"filter": "datum.panel === 'C'"}, {"calculate": "datum.dpi + '|' + datum.group", "as": "sub"}, {"calculate": "datum.mean + datum.sem", "as": "upper"}],
       "mark": {"type": "tick", "orient": "horizontal", "size": 17, "thickness": 4.5, "cornerRadius": 2.2, "color": "#1a1a1a"},
       "encoding": {"x": {"field": "peptide", "type": "nominal"}, "xOffset": {"field": "sub", "type": "nominal"}, "y": {"field": "upper", "type": "quantitative"}}},
      {"data": {"name": "bars"}, "transform": [{"filter": "datum.panel === 'C' && datum.group === 'DENV' && datum.dpi === '3 dpi'"}],
       "mark": {"type": "rule", "strokeWidth": 3, "y2Offset": 12, "color": "#1a1a1a"},
       "encoding": {"x": {"field": "peptide", "type": "nominal"}, "y": {"datum": 0}, "y2": {"datum": 0}}},
      {"data": {"name": "bars"}, "transform": [{"filter": "datum.panel === 'C' && datum.group === 'DENV' && datum.dpi === '3 dpi'"}],
       "mark": {"type": "point", "shape": "M-1,-0.069H1V0.069H-1Z", "size": 3364, "filled": true, "opacity": 1, "strokeWidth": 0, "yOffset": 18, "color": "#1a1a1a"},
       "encoding": {"x": {"field": "peptide", "type": "nominal", "bandPosition": 0.25}, "y": {"datum": 0}}},
      {"data": {"name": "bars"}, "transform": [{"filter": "datum.panel === 'C' && datum.group === 'DENV' && datum.dpi === '3 dpi'"}],
       "mark": {"type": "point", "shape": "M-1,-0.069H1V0.069H-1Z", "size": 3364, "filled": true, "opacity": 1, "strokeWidth": 0, "yOffset": 18, "color": "#1a1a1a"},
       "encoding": {"x": {"field": "peptide", "type": "nominal", "bandPosition": 0.75}, "y": {"datum": 0}}},
      {"data": {"name": "bars"}, "transform": [{"filter": "datum.panel === 'C' && datum.group === 'DENV' && datum.dpi === '3 dpi'"}],
       "mark": {"type": "text", "fontSize": 22, "baseline": "middle", "yOffset": 38},
       "encoding": {"x": {"field": "peptide", "type": "nominal", "bandPosition": 0.25}, "y": {"datum": 0}, "text": {"field": "dpi"}}},
      {"data": {"name": "bars"}, "transform": [{"filter": "datum.panel === 'C' && datum.group === 'DENV' && datum.dpi === '7 dpi'"}],
       "mark": {"type": "text", "fontSize": 22, "baseline": "middle", "yOffset": 38},
       "encoding": {"x": {"field": "peptide", "type": "nominal", "bandPosition": 0.75}, "y": {"datum": 0}, "text": {"field": "dpi"}}},
      {"data": {"name": "bars"}, "transform": [{"filter": "datum.panel === 'C' && datum.group === 'DENV' && datum.dpi === '3 dpi'"}],
       "mark": {"type": "point", "shape": "M-1,-0.029H1V0.029H-1Z", "size": 19044, "filled": true, "opacity": 1, "strokeWidth": 0, "yOffset": 64, "color": "#1a1a1a"},
       "encoding": {"x": {"field": "peptide", "type": "nominal", "bandPosition": 0.5}, "y": {"datum": 0}}},
      {"data": {"name": "panels"}, "transform": [{"filter": "datum.panel === 'C'"}],
       "mark": {"type": "text", "fontSize": 30, "baseline": "middle", "yOffset": 25},
       "encoding": {"y": {"datum": 8}, "text": {"field": "title"}}},
      {"data": {"name": "sig"}, "transform": [{"filter": "datum.panel === 'C' && datum.dpi === '3 dpi'"}],
       "mark": {"type": "point", "shape": "M-1,-0.125H1V0.125H-1Z", "size": 1600, "filled": true, "opacity": 1, "strokeWidth": 0, "color": "#1a1a1a"},
       "encoding": {"x": {"field": "peptide", "type": "nominal", "bandPosition": 0.25}, "y": {"field": "by", "type": "quantitative"}}},
      {"data": {"name": "sig"}, "transform": [{"filter": "datum.panel === 'C' && datum.dpi === '3 dpi'"}],
       "mark": {"type": "rule", "strokeWidth": 5, "strokeCap": "round", "y2Offset": 16, "color": "#1a1a1a"},
       "encoding": {"x": {"field": "peptide", "type": "nominal", "bandPosition": 0.125}, "y": {"field": "by", "type": "quantitative"}, "y2": {"field": "by"}}},
      {"data": {"name": "sig"}, "transform": [{"filter": "datum.panel === 'C' && datum.dpi === '3 dpi'"}],
       "mark": {"type": "rule", "strokeWidth": 5, "strokeCap": "round", "y2Offset": 16, "color": "#1a1a1a"},
       "encoding": {"x": {"field": "peptide", "type": "nominal", "bandPosition": 0.375}, "y": {"field": "by", "type": "quantitative"}, "y2": {"field": "by"}}},
      {"data": {"name": "sig"}, "transform": [{"filter": "datum.panel === 'C' && datum.dpi === '3 dpi'"}],
       "mark": {"type": "text", "fontSize": 58, "baseline": "alphabetic", "yOffset": 0},
       "encoding": {"x": {"field": "peptide", "type": "nominal", "bandPosition": 0.25}, "y": {"field": "by", "type": "quantitative"}, "text": {"field": "stars"}}},
      {"data": {"name": "sig"}, "transform": [{"filter": "datum.panel === 'C' && datum.dpi === '7 dpi'"}],
       "mark": {"type": "point", "shape": "M-1,-0.125H1V0.125H-1Z", "size": 1600, "filled": true, "opacity": 1, "strokeWidth": 0, "color": "#1a1a1a"},
       "encoding": {"x": {"field": "peptide", "type": "nominal", "bandPosition": 0.75}, "y": {"field": "by", "type": "quantitative"}}},
      {"data": {"name": "sig"}, "transform": [{"filter": "datum.panel === 'C' && datum.dpi === '7 dpi'"}],
       "mark": {"type": "rule", "strokeWidth": 5, "strokeCap": "round", "y2Offset": 16, "color": "#1a1a1a"},
       "encoding": {"x": {"field": "peptide", "type": "nominal", "bandPosition": 0.625}, "y": {"field": "by", "type": "quantitative"}, "y2": {"field": "by"}}},
      {"data": {"name": "sig"}, "transform": [{"filter": "datum.panel === 'C' && datum.dpi === '7 dpi'"}],
       "mark": {"type": "rule", "strokeWidth": 5, "strokeCap": "round", "y2Offset": 16, "color": "#1a1a1a"},
       "encoding": {"x": {"field": "peptide", "type": "nominal", "bandPosition": 0.875}, "y": {"field": "by", "type": "quantitative"}, "y2": {"field": "by"}}},
      {"data": {"name": "sig"}, "transform": [{"filter": "datum.panel === 'C' && datum.dpi === '7 dpi'"}],
       "mark": {"type": "text", "fontSize": 58, "baseline": "alphabetic", "yOffset": 0},
       "encoding": {"x": {"field": "peptide", "type": "nominal", "bandPosition": 0.75}, "y": {"field": "by", "type": "quantitative"}, "text": {"field": "stars"}}}
    ]}
   ]}
  ]
 },
 {
  "spacing": 15,
  "resolve": {"scale": {"color": "independent", "shape": "independent", "xOffset": "independent"}},
  "hconcat": [
   {"width": 7, "height": 1514, "data": {"values": [{}]}, "mark": {"type": "rect", "color": "#1a1a1a"}, "encoding": {}},
   {"spacing": 25,
    "resolve": {"scale": {"color": "independent", "shape": "independent", "xOffset": "independent"}},
    "vconcat": [
    {"width": 817, "height": 407, "layer": [
      {"data": {"name": "panels"}, "transform": [{"filter": "datum.panel === 'D'"}],
       "mark": {"type": "rule", "strokeWidth": 4, "strokeDash": [0.1, 10.6], "strokeCap": "round", "color": "#1a1a1a"},
       "encoding": {"y": {"field": "lod", "type": "quantitative", "scale": {"domain": [0, 7], "nice": false},
         "axis": {"title": "Log (ZIKV FFU/ml)", "titleX": -60, "titleY": 270, "titleAngle": 270, "titleAlign": "center", "titleBaseline": "middle", "titleFontSize": 36, "titleFontWeight": "normal", "values": [0,1,2,3,4,5,6,7], "format": "d", "tickSize": 10, "tickWidth": 3, "domainWidth": 3, "labelFontSize": 23, "labelPadding": 3}}}},
      {"data": {"name": "points"}, "transform": [{"filter": "datum.panel === 'D'"}, {"calculate": "datum.j + (datum.group === 'Irr' ? -3.73 : 3.8)", "as": "xo"}],
       "mark": {"type": "point", "filled": true, "opacity": 1, "size": 330, "color": "#1a1a1a", "strokeWidth": 0},
       "encoding": {
         "x": {"field": "dpi", "type": "nominal", "scale": {"type": "band", "domain": ["3 dpi", "7 dpi"], "paddingInner": 0, "paddingOuter": 0},
               "axis": {"title": "D", "titleX": -58.3, "titleY": -392, "titleAngle": 0, "titleAlign": "center", "titleBaseline": "middle", "titleFontSize": 35, "titleFontWeight": "bold", "tickSize": 11, "tickWidth": 3, "domainWidth": 3, "labelFontSize": 29, "labelPadding": 25, "labelBaseline": "middle", "labelAngle": 0}},
         "xOffset": {"field": "xo", "type": "quantitative", "scale": {"domain": [-10, 10], "nice": false, "zero": false}},
         "y": {"field": "value", "type": "quantitative"},
         "shape": {"field": "group", "type": "nominal", "scale": {"domain": ["Irr", "DENV"], "range": ["square", "triangle-up"]},
               "legend": {"orient": "none", "legendX": -1, "legendY": -120, "title": null, "labelExpr": "datum.value === 'Irr' ? 'Irrelevant peptide-vaccinated' : 'DENV2/ZIKV-cross-reactive peptide-vaccinated'", "symbolSize": 280, "symbolFillColor": "#1a1a1a", "symbolStrokeWidth": 0, "labelFontSize": 33, "labelOffset": -2, "labelLimit": 0, "rowPadding": 25, "padding": 0}}
       }},
      {"data": {"name": "summary"}, "transform": [{"filter": "datum.panel === 'D'"}, {"calculate": "datum.group === 'Irr' ? -3.73 : 3.8", "as": "xo"}],
       "mark": {"type": "tick", "orient": "horizontal", "size": 101, "thickness": 2.7, "color": "#1a1a1a"},
       "encoding": {"x": {"field": "dpi", "type": "nominal"}, "xOffset": {"field": "xo", "type": "quantitative"}, "y": {"field": "mean", "type": "quantitative"}}},
      {"data": {"name": "summary"}, "transform": [{"filter": "datum.panel === 'D' && datum.sem > 0"}, {"calculate": "datum.group === 'Irr' ? -3.73 : 3.8", "as": "xo"}, {"calculate": "datum.mean + datum.sem", "as": "hi"}, {"calculate": "datum.mean - datum.sem", "as": "lo"}, {"fold": ["hi", "lo"], "as": ["bound", "v"]}],
       "mark": {"type": "tick", "orient": "horizontal", "size": 52, "thickness": 2.7, "color": "#1a1a1a"},
       "encoding": {"x": {"field": "dpi", "type": "nominal"}, "xOffset": {"field": "xo", "type": "quantitative"}, "y": {"field": "v", "type": "quantitative"}}},
      {"data": {"name": "summary"}, "transform": [{"filter": "datum.panel === 'D' && datum.sem > 0"}, {"calculate": "datum.group === 'Irr' ? -3.73 : 3.8", "as": "xo"}, {"calculate": "datum.mean + datum.sem", "as": "hi"}, {"calculate": "datum.mean - datum.sem", "as": "lo"}],
       "mark": {"type": "rule", "strokeWidth": 2.7, "color": "#1a1a1a"},
       "encoding": {"x": {"field": "dpi", "type": "nominal"}, "xOffset": {"field": "xo", "type": "quantitative"}, "y": {"field": "lo", "type": "quantitative"}, "y2": {"field": "hi"}}},
      {"data": {"name": "sig2"}, "transform": [{"filter": "datum.panel === 'D'"}],
       "mark": {"type": "tick", "orient": "horizontal", "size": 157, "thickness": 3.5, "color": "#1a1a1a"},
       "encoding": {"x": {"field": "dpi", "type": "nominal", "bandPosition": 0.503}, "y": {"field": "by", "type": "quantitative"}}},
      {"data": {"name": "sig2"}, "transform": [{"filter": "datum.panel === 'D'"}],
       "mark": {"type": "rule", "strokeWidth": 3.5, "strokeCap": "round", "y2Offset": 20, "color": "#1a1a1a"},
       "encoding": {"x": {"field": "dpi", "type": "nominal", "bandPosition": 0.3145}, "y": {"field": "by", "type": "quantitative"}, "y2": {"field": "by"}}},
      {"data": {"name": "sig2"}, "transform": [{"filter": "datum.panel === 'D'"}],
       "mark": {"type": "rule", "strokeWidth": 3.5, "strokeCap": "round", "y2Offset": 20, "color": "#1a1a1a"},
       "encoding": {"x": {"field": "dpi", "type": "nominal", "bandPosition": 0.6914}, "y": {"field": "by", "type": "quantitative"}, "y2": {"field": "by"}}},
      {"data": {"name": "sig2"}, "transform": [{"filter": "datum.panel === 'D'"}],
       "mark": {"type": "text", "fontSize": 58, "baseline": "alphabetic", "yOffset": 3},
       "encoding": {"x": {"field": "dpi", "type": "nominal", "bandPosition": 0.503}, "y": {"field": "by", "type": "quantitative"}, "text": {"field": "stars"}}},
      {"data": {"name": "panels"}, "transform": [{"filter": "datum.panel === 'D'"}],
       "mark": {"type": "text", "fontSize": 32, "baseline": "middle", "yOffset": 24},
       "encoding": {"y": {"datum": 7}, "text": {"field": "title"}}},
      {"data": {"name": "panels"}, "transform": [{"filter": "datum.panel === 'D'"}],
       "mark": {"type": "text", "fontSize": 34, "baseline": "middle", "yOffset": 89},
       "encoding": {"y": {"datum": 0}, "text": {"field": "xlab"}}},
      {"data": {"name": "panels"}, "transform": [{"filter": "datum.panel === 'D'"}],
       "mark": {"type": "rule", "strokeWidth": 4, "yOffset": 62, "color": "#1a1a1a"},
       "encoding": {"y": {"datum": 0}}}
    ]},
    {"width": 817, "height": 407, "layer": [
      {"data": {"name": "panels"}, "transform": [{"filter": "datum.panel === 'E'"}],
       "mark": {"type": "rule", "strokeWidth": 4, "strokeDash": [0.1, 10.6], "strokeCap": "round", "color": "#1a1a1a"},
       "encoding": {"y": {"field": "lod", "type": "quantitative", "scale": {"domain": [0, 7], "nice": false},
         "axis": {"title": "Log (ZIKV FFU/g)", "titleX": -60, "titleY": 270, "titleAngle": 270, "titleAlign": "center", "titleBaseline": "middle", "titleFontSize": 36, "titleFontWeight": "normal", "values": [0,1,2,3,4,5,6,7], "format": "d", "tickSize": 10, "tickWidth": 3, "domainWidth": 3, "labelFontSize": 23, "labelPadding": 3}}}},
      {"data": {"name": "points"}, "transform": [{"filter": "datum.panel === 'E'"}, {"calculate": "datum.j + (datum.group === 'Irr' ? -3.73 : 3.8)", "as": "xo"}],
       "mark": {"type": "point", "filled": true, "opacity": 1, "size": 330, "color": "#1a1a1a", "strokeWidth": 0},
       "encoding": {
         "x": {"field": "dpi", "type": "nominal", "scale": {"type": "band", "domain": ["3 dpi", "7 dpi"], "paddingInner": 0, "paddingOuter": 0},
               "axis": {"title": "E", "titleX": -58.3, "titleY": -392, "titleAngle": 0, "titleAlign": "center", "titleBaseline": "middle", "titleFontSize": 35, "titleFontWeight": "bold", "tickSize": 11, "tickWidth": 3, "domainWidth": 3, "labelFontSize": 29, "labelPadding": 25, "labelBaseline": "middle", "labelAngle": 0}},
         "xOffset": {"field": "xo", "type": "quantitative", "scale": {"domain": [-10, 10], "nice": false, "zero": false}},
         "y": {"field": "value", "type": "quantitative"},
         "shape": {"field": "group", "type": "nominal", "scale": {"domain": ["Irr", "DENV"], "range": ["square", "triangle-up"]}, "legend": null}
       }},
      {"data": {"name": "summary"}, "transform": [{"filter": "datum.panel === 'E'"}, {"calculate": "datum.group === 'Irr' ? -3.73 : 3.8", "as": "xo"}],
       "mark": {"type": "tick", "orient": "horizontal", "size": 101, "thickness": 2.7, "color": "#1a1a1a"},
       "encoding": {"x": {"field": "dpi", "type": "nominal"}, "xOffset": {"field": "xo", "type": "quantitative"}, "y": {"field": "mean", "type": "quantitative"}}},
      {"data": {"name": "summary"}, "transform": [{"filter": "datum.panel === 'E' && datum.sem > 0"}, {"calculate": "datum.group === 'Irr' ? -3.73 : 3.8", "as": "xo"}, {"calculate": "datum.mean + datum.sem", "as": "hi"}, {"calculate": "datum.mean - datum.sem", "as": "lo"}, {"fold": ["hi", "lo"], "as": ["bound", "v"]}],
       "mark": {"type": "tick", "orient": "horizontal", "size": 52, "thickness": 2.7, "color": "#1a1a1a"},
       "encoding": {"x": {"field": "dpi", "type": "nominal"}, "xOffset": {"field": "xo", "type": "quantitative"}, "y": {"field": "v", "type": "quantitative"}}},
      {"data": {"name": "summary"}, "transform": [{"filter": "datum.panel === 'E' && datum.sem > 0"}, {"calculate": "datum.group === 'Irr' ? -3.73 : 3.8", "as": "xo"}, {"calculate": "datum.mean + datum.sem", "as": "hi"}, {"calculate": "datum.mean - datum.sem", "as": "lo"}],
       "mark": {"type": "rule", "strokeWidth": 2.7, "color": "#1a1a1a"},
       "encoding": {"x": {"field": "dpi", "type": "nominal"}, "xOffset": {"field": "xo", "type": "quantitative"}, "y": {"field": "lo", "type": "quantitative"}, "y2": {"field": "hi"}}},
      {"data": {"name": "sig2"}, "transform": [{"filter": "datum.panel === 'E'"}],
       "mark": {"type": "tick", "orient": "horizontal", "size": 157, "thickness": 3.5, "color": "#1a1a1a"},
       "encoding": {"x": {"field": "dpi", "type": "nominal", "bandPosition": 0.503}, "y": {"field": "by", "type": "quantitative"}}},
      {"data": {"name": "sig2"}, "transform": [{"filter": "datum.panel === 'E'"}],
       "mark": {"type": "rule", "strokeWidth": 3.5, "strokeCap": "round", "y2Offset": 20, "color": "#1a1a1a"},
       "encoding": {"x": {"field": "dpi", "type": "nominal", "bandPosition": 0.3145}, "y": {"field": "by", "type": "quantitative"}, "y2": {"field": "by"}}},
      {"data": {"name": "sig2"}, "transform": [{"filter": "datum.panel === 'E'"}],
       "mark": {"type": "rule", "strokeWidth": 3.5, "strokeCap": "round", "y2Offset": 20, "color": "#1a1a1a"},
       "encoding": {"x": {"field": "dpi", "type": "nominal", "bandPosition": 0.6914}, "y": {"field": "by", "type": "quantitative"}, "y2": {"field": "by"}}},
      {"data": {"name": "sig2"}, "transform": [{"filter": "datum.panel === 'E'"}],
       "mark": {"type": "text", "fontSize": 58, "baseline": "alphabetic", "yOffset": 3},
       "encoding": {"x": {"field": "dpi", "type": "nominal", "bandPosition": 0.503}, "y": {"field": "by", "type": "quantitative"}, "text": {"field": "stars"}}},
      {"data": {"name": "panels"}, "transform": [{"filter": "datum.panel === 'E'"}],
       "mark": {"type": "text", "fontSize": 32, "baseline": "middle", "yOffset": 26},
       "encoding": {"y": {"datum": 7}, "text": {"field": "title"}}},
      {"data": {"name": "panels"}, "transform": [{"filter": "datum.panel === 'E'"}],
       "mark": {"type": "text", "fontSize": 34, "baseline": "middle", "yOffset": 89},
       "encoding": {"y": {"datum": 0}, "text": {"field": "xlab"}}},
      {"data": {"name": "panels"}, "transform": [{"filter": "datum.panel === 'E'"}],
       "mark": {"type": "rule", "strokeWidth": 4, "yOffset": 62, "color": "#1a1a1a"},
       "encoding": {"y": {"datum": 0}}}
    ]},
    {"width": 817, "height": 407, "layer": [
      {"data": {"name": "panels"}, "transform": [{"filter": "datum.panel === 'F'"}],
       "mark": {"type": "rule", "strokeWidth": 4, "strokeDash": [0.1, 10.6], "strokeCap": "round", "color": "#1a1a1a"},
       "encoding": {"y": {"field": "lod", "type": "quantitative", "scale": {"domain": [0, 7], "nice": false},
         "axis": {"title": "Log (ZIKV FFU/g)", "titleX": -60, "titleY": 270, "titleAngle": 270, "titleAlign": "center", "titleBaseline": "middle", "titleFontSize": 36, "titleFontWeight": "normal", "values": [0,1,2,3,4,5,6,7], "format": "d", "tickSize": 10, "tickWidth": 3, "domainWidth": 3, "labelFontSize": 23, "labelPadding": 3}}}},
      {"data": {"name": "points"}, "transform": [{"filter": "datum.panel === 'F'"}, {"calculate": "datum.j + (datum.group === 'Irr' ? -3.73 : 3.8)", "as": "xo"}],
       "mark": {"type": "point", "filled": true, "opacity": 1, "size": 330, "color": "#1a1a1a", "strokeWidth": 0},
       "encoding": {
         "x": {"field": "dpi", "type": "nominal", "scale": {"type": "band", "domain": ["3 dpi", "7 dpi"], "paddingInner": 0, "paddingOuter": 0},
               "axis": {"title": "F", "titleX": -58.3, "titleY": -392, "titleAngle": 0, "titleAlign": "center", "titleBaseline": "middle", "titleFontSize": 35, "titleFontWeight": "bold", "tickSize": 11, "tickWidth": 3, "domainWidth": 3, "labelFontSize": 29, "labelPadding": 25, "labelBaseline": "middle", "labelAngle": 0}},
         "xOffset": {"field": "xo", "type": "quantitative", "scale": {"domain": [-10, 10], "nice": false, "zero": false}},
         "y": {"field": "value", "type": "quantitative"},
         "shape": {"field": "group", "type": "nominal", "scale": {"domain": ["Irr", "DENV"], "range": ["square", "triangle-up"]}, "legend": null}
       }},
      {"data": {"name": "summary"}, "transform": [{"filter": "datum.panel === 'F'"}, {"calculate": "datum.group === 'Irr' ? -3.73 : 3.8", "as": "xo"}],
       "mark": {"type": "tick", "orient": "horizontal", "size": 101, "thickness": 2.7, "color": "#1a1a1a"},
       "encoding": {"x": {"field": "dpi", "type": "nominal"}, "xOffset": {"field": "xo", "type": "quantitative"}, "y": {"field": "mean", "type": "quantitative"}}},
      {"data": {"name": "summary"}, "transform": [{"filter": "datum.panel === 'F' && datum.sem > 0"}, {"calculate": "datum.group === 'Irr' ? -3.73 : 3.8", "as": "xo"}, {"calculate": "datum.mean + datum.sem", "as": "hi"}, {"calculate": "datum.mean - datum.sem", "as": "lo"}, {"fold": ["hi", "lo"], "as": ["bound", "v"]}],
       "mark": {"type": "tick", "orient": "horizontal", "size": 52, "thickness": 2.7, "color": "#1a1a1a"},
       "encoding": {"x": {"field": "dpi", "type": "nominal"}, "xOffset": {"field": "xo", "type": "quantitative"}, "y": {"field": "v", "type": "quantitative"}}},
      {"data": {"name": "summary"}, "transform": [{"filter": "datum.panel === 'F' && datum.sem > 0"}, {"calculate": "datum.group === 'Irr' ? -3.73 : 3.8", "as": "xo"}, {"calculate": "datum.mean + datum.sem", "as": "hi"}, {"calculate": "datum.mean - datum.sem", "as": "lo"}],
       "mark": {"type": "rule", "strokeWidth": 2.7, "color": "#1a1a1a"},
       "encoding": {"x": {"field": "dpi", "type": "nominal"}, "xOffset": {"field": "xo", "type": "quantitative"}, "y": {"field": "lo", "type": "quantitative"}, "y2": {"field": "hi"}}},
      {"data": {"name": "sig2"}, "transform": [{"filter": "datum.panel === 'F'"}],
       "mark": {"type": "tick", "orient": "horizontal", "size": 157, "thickness": 3.5, "color": "#1a1a1a"},
       "encoding": {"x": {"field": "dpi", "type": "nominal", "bandPosition": 0.503}, "y": {"field": "by", "type": "quantitative"}}},
      {"data": {"name": "sig2"}, "transform": [{"filter": "datum.panel === 'F'"}],
       "mark": {"type": "rule", "strokeWidth": 3.5, "strokeCap": "round", "y2Offset": 20, "color": "#1a1a1a"},
       "encoding": {"x": {"field": "dpi", "type": "nominal", "bandPosition": 0.3145}, "y": {"field": "by", "type": "quantitative"}, "y2": {"field": "by"}}},
      {"data": {"name": "sig2"}, "transform": [{"filter": "datum.panel === 'F'"}],
       "mark": {"type": "rule", "strokeWidth": 3.5, "strokeCap": "round", "y2Offset": 20, "color": "#1a1a1a"},
       "encoding": {"x": {"field": "dpi", "type": "nominal", "bandPosition": 0.6914}, "y": {"field": "by", "type": "quantitative"}, "y2": {"field": "by"}}},
      {"data": {"name": "sig2"}, "transform": [{"filter": "datum.panel === 'F'"}],
       "mark": {"type": "text", "fontSize": 58, "baseline": "alphabetic", "yOffset": 3},
       "encoding": {"x": {"field": "dpi", "type": "nominal", "bandPosition": 0.503}, "y": {"field": "by", "type": "quantitative"}, "text": {"field": "stars"}}},
      {"data": {"name": "panels"}, "transform": [{"filter": "datum.panel === 'F'"}],
       "mark": {"type": "text", "fontSize": 32, "baseline": "middle", "yOffset": 25},
       "encoding": {"y": {"datum": 7}, "text": {"field": "title"}}},
      {"data": {"name": "panels"}, "transform": [{"filter": "datum.panel === 'F'"}],
       "mark": {"type": "text", "fontSize": 34, "baseline": "middle", "yOffset": 89},
       "encoding": {"y": {"datum": 0}, "text": {"field": "xlab"}}},
      {"data": {"name": "panels"}, "transform": [{"filter": "datum.panel === 'F'"}],
       "mark": {"type": "rule", "strokeWidth": 4, "yOffset": 62, "color": "#1a1a1a"},
       "encoding": {"y": {"datum": 0}}}
    ]}
   ]}
  ]
 }
]
}
